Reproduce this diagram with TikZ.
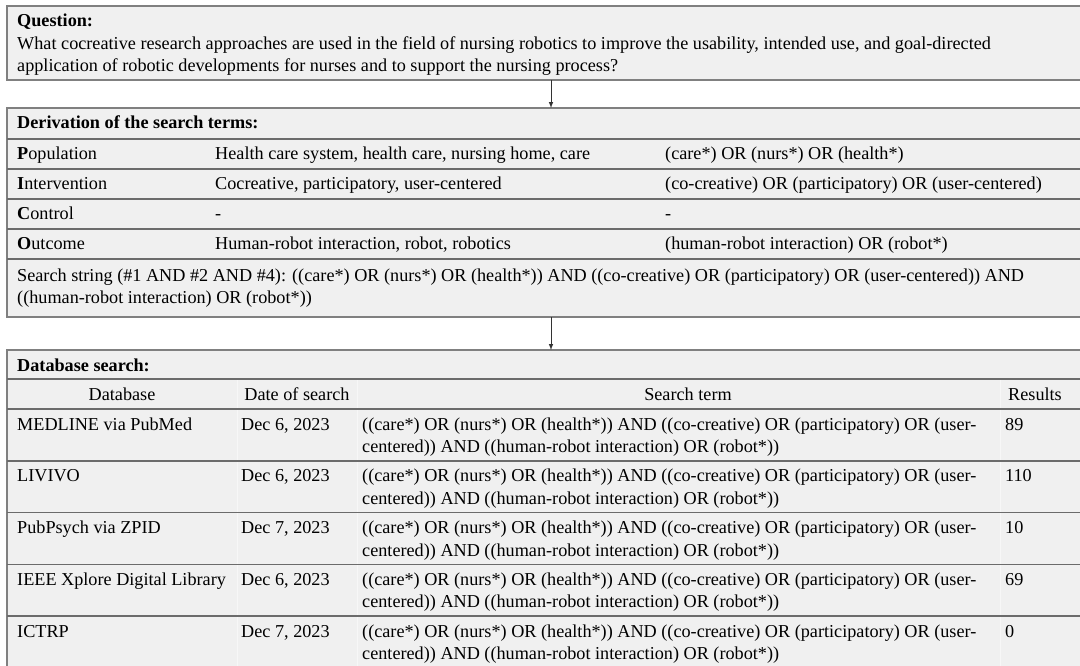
\documentclass[tikz,border=0pt]{standalone}
\usepackage{fontspec}
\setmainfont{Liberation Serif}
\usetikzlibrary{positioning}
\tikzset{>=latex}
\definecolor{boxfill}{rgb}{0.94,0.94,0.94}
\definecolor{boxline}{rgb}{0.5,0.5,0.5}
\definecolor{rowline}{rgb}{0.42,0.42,0.42}
\definecolor{arrowc}{rgb}{0.2,0.2,0.2}
\definecolor{colc}{rgb}{0.97,0.97,0.97}
\tikzset{%
    panel/.style={draw=boxline,fill=boxfill,line width=1.5pt,inner sep=0pt,%
        outer sep=0pt,anchor=north west,minimum width=1088pt},%
    txt/.style={anchor=base west,inner sep=0pt},%
    hdr/.style={anchor=base,inner sep=0pt},%
    sep/.style={draw=rowline,line width=1.5pt},%
    colsep/.style={draw=colc,line width=1pt},%
    flow/.style={->,draw=arrowc,line width=1pt}%
}
\newcommand{\PICOrow}[5]{%
  \node[txt] (#1-a) at (17,#2+21) {#3};
  \node[txt] (#1-b) at (215,#2+21) {#4};
  \node[txt] (#1-c) at (665,#2+21) {#5};
  \draw[sep] (7,#2+30) -- (1100,#2+30);
}
\newcommand{\DBrow}[5]{%
  \node[txt] (#1-db) at (17,#2+21) {#3};
  \node[txt] (#1-date) at (241,#2+21) {#4};
  \node[txt] (#1-t1) at (362,#2+21) {((care*) OR (nurs*) OR (health*)) AND ((co-creative) OR (participatory) OR (user-};
  \node[txt] (#1-t2) at (362,#2+43.5) {centered)) AND ((human-robot interaction) OR (robot*))};
  \node[txt] (#1-res) at (1005,#2+21) {#5};
  \draw[sep] (7,#2+51.75) -- (1100,#2+51.75);
}

\begin{document}
\begin{tikzpicture}[x=1pt,y=-1pt,font=\fontsize{18.2}{22.5}\selectfont]
    \useasboundingbox (0,0) rectangle (1080,666);
    \clip (0,0) rectangle (1080,666);
    \fill[white] (0,0) rectangle (1080,666);
    % question
    \node[panel,minimum height=74pt] (question) at (7,6) {};
    \node[txt] (q-head) at (17,27) {\textbf{Question:}};
    \node[txt] (q-l1) at (17,50) {What cocreative research approaches are used in the field of nursing robotics to improve the usability, intended use, and goal-directed};
    \node[txt] (q-l2) at (17,72) {application of robotic developments for nurses and to support the nursing process?};
    % derivation of the search terms
    \node[panel,minimum height=209pt] (deriv) at (7,108) {};
    \node[txt] (d-head) at (17,129) {\textbf{Derivation of the search terms:}};
    \draw[sep] (7,139) -- (1100,139);
    \PICOrow{pop}{139}{\textbf{P}opulation}{Health care system, health care, nursing home, care}{(care*) OR (nurs*) OR (health*)}
    \PICOrow{int}{169}{\textbf{I}ntervention}{Cocreative, participatory, user-centered}{(co-creative) OR (participatory) OR (user-centered)}
    \PICOrow{con}{199}{\textbf{C}ontrol}{-}{-}
    \PICOrow{out}{229}{\textbf{O}utcome}{Human-robot interaction, robot, robotics}{(human-robot interaction) OR (robot*)}
    \node[txt] (s-l1) at (17,281) {Search string (\#1 AND \#2 AND \#4): ((care*) OR (nurs*) OR (health*)) AND ((co-creative) OR (participatory) OR (user-centered)) AND};
    \node[txt] (s-l2) at (17,303.5) {((human-robot interaction) OR (robot*))};
    % database search
    \node[panel,minimum height=340pt] (dbase) at (7,350) {};
    \node[txt] (b-head) at (17,371) {\textbf{Database search:}};
    \draw[colsep] (237,379) -- (237,700);
    \draw[colsep] (357,379) -- (357,700);
    \draw[colsep] (1000,379) -- (1000,700);
    \draw[sep] (7,379) -- (1100,379);
    \node[hdr] (h-db) at (122,400) {Database};
    \node[hdr] (h-date) at (297,400) {Date of search};
    \node[hdr] (h-term) at (688,400) {Search term};
    \node[txt] (h-res) at (1008,400) {Results};
    \draw[sep] (7,409) -- (1100,409);
    \DBrow{medline}{409}{MEDLINE via PubMed}{Dec 6, 2023}{89}
    \DBrow{livivo}{460.75}{LIVIVO}{Dec 6, 2023}{110}
    \DBrow{pubpsych}{512.5}{PubPsych via ZPID}{Dec 7, 2023}{10}
    \DBrow{ieee}{564.25}{IEEE Xplore Digital Library}{Dec 6, 2023}{69}
    \DBrow{ictrp}{616}{ICTRP}{Dec 7, 2023}{0}
    % flow arrows
    \draw[flow] (question.south) -- (deriv.north);
    \draw[flow] (deriv.south) -- (dbase.north);
\end{tikzpicture}
\end{document}
